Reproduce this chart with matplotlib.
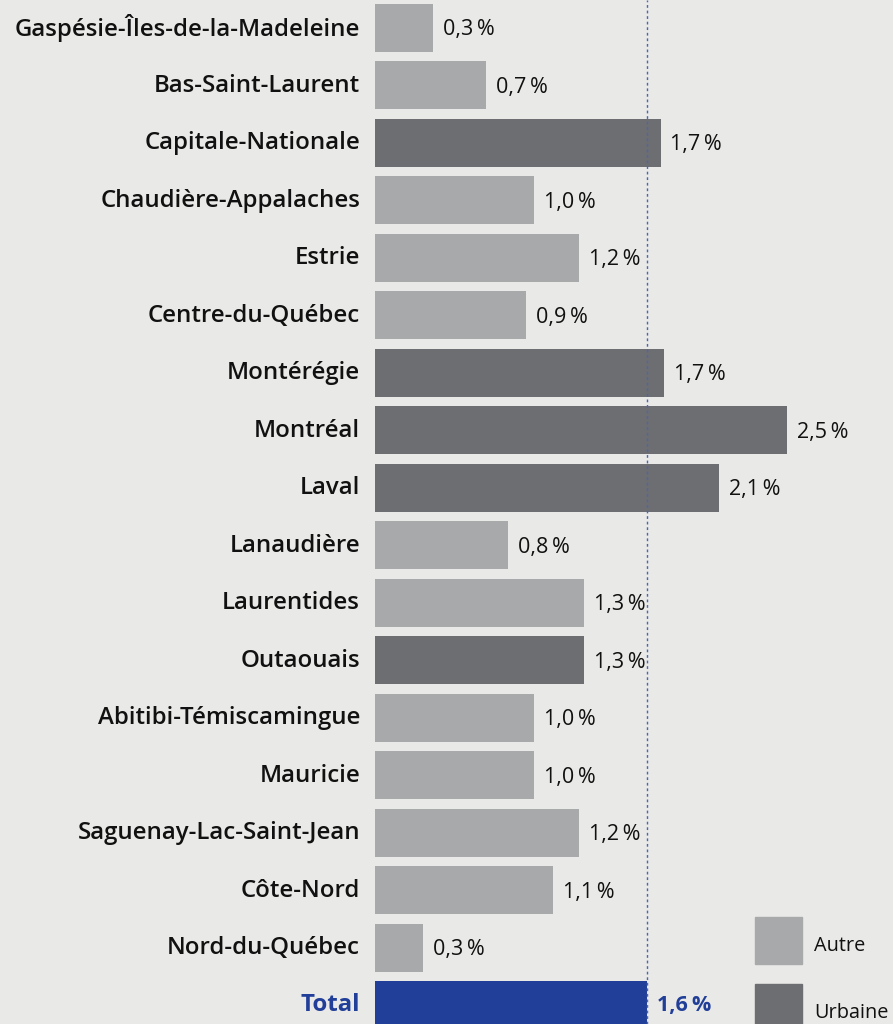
import matplotlib.pyplot as plt
from matplotlib.patches import Rectangle

regions = ['Gaspésie-Îles-de-la-Madeleine', 'Bas-Saint-Laurent', 'Capitale-Nationale',
           'Chaudière-Appalaches', 'Estrie', 'Centre-du-Québec', 'Montérégie', 'Montréal',
           'Laval', 'Lanaudière', 'Laurentides', 'Outaouais', 'Abitibi-Témiscamingue',
           'Mauricie', 'Saguenay-Lac-Saint-Jean', 'Côte-Nord', 'Nord-du-Québec']
values = [0.35, 0.67, 1.72, 0.96, 1.23, 0.91, 1.74, 2.48, 2.07, 0.80, 1.26, 1.26,
          0.96, 0.96, 1.23, 1.07, 0.29]
labels = ['0,3', '0,7', '1,7', '1,0', '1,2', '0,9', '1,7', '2,5', '2,1', '0,8', '1,3', '1,3',
          '1,0', '1,0', '1,2', '1,1', '0,3']
types = ['Autre', 'Autre', 'Urbaine', 'Autre', 'Autre', 'Autre', 'Urbaine', 'Urbaine',
         'Urbaine', 'Autre', 'Autre', 'Urbaine', 'Autre', 'Autre', 'Autre', 'Autre', 'Autre']
total_value = 1.64
total_label = '1,6'

bg = '#e9e9e7'
colors = {'Autre': '#a8a9ab', 'Urbaine': '#6d6e71'}
blue = '#213f99'
font = ['Open Sans', 'DejaVu Sans']

W, H = 893, 1024
fig = plt.figure(figsize=(W / 100, H / 100), dpi=100)
fig.patch.set_facecolor(bg)
ax = fig.add_axes([375 / W, 0, 1 - 375 / W, 1])
ax.set_facecolor(bg)

pitch = 57.5
y0 = 27.8
ax.set_xlim(0, (W - 375) / 166)
ax.set_ylim((H - y0) / pitch, -y0 / pitch)
ax.axis('off')

for i, (r, v, lab, t) in enumerate(zip(regions, values, labels, types)):
    ax.barh(i, v, height=0.83, color=colors[t])
    ax.text(-0.09, i + 0.01, r, ha='right', va='center', fontsize=17.3, fontweight='semibold',
            family=font, color='#111111')
    ax.text(v + 0.06, i + 0.03, lab + '\u2009%', ha='left', va='center', fontsize=15.5,
            family=font, color='#111111')

n = len(regions)
ax.barh(n, total_value, height=0.83, color=blue)
ax.text(-0.09, n, 'Total', ha='right', va='center', fontsize=17.3, fontweight='bold',
        family=font, color=blue)
ax.text(total_value + 0.06, n, total_label + '\u2009%', ha='left', va='center',
        fontsize=15.5, fontweight='bold', family=font, color=blue)
ax.axvline(total_value, color='#4a64b8', lw=1, ls=(0, (2, 2)))

# legend
for ytop, name in [(917, 'Autre'), (984, 'Urbaine')]:
    fig.add_artist(Rectangle((755 / W, 1 - (ytop + 47) / H), 47 / W, 47 / H,
                             transform=fig.transFigure, color=colors[name]))
    fig.text(814 / W, 1 - (ytop + 29) / H, name, ha='left', va='center', fontsize=14.3,
             family=font, color='#111111')

fig.savefig('out.png', dpi=100, facecolor=bg)
